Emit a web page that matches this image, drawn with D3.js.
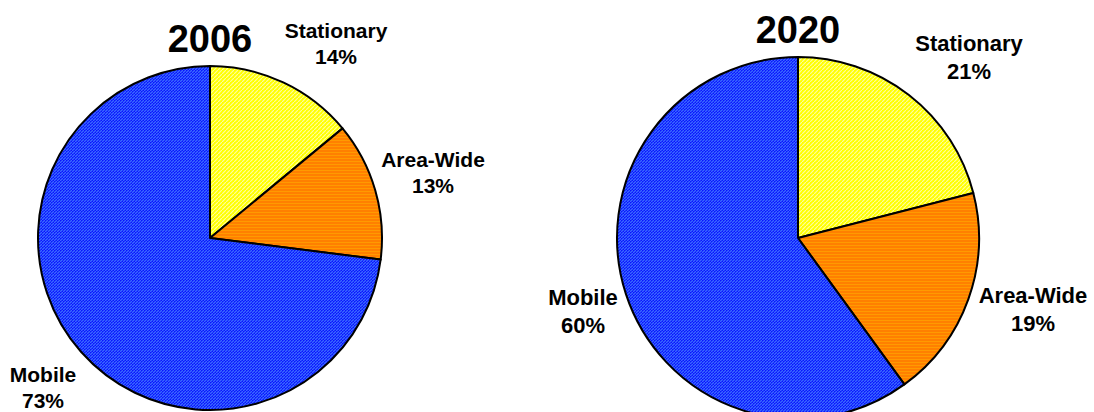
<!DOCTYPE html>
<html>
<head>
<meta charset="utf-8">
<script src="https://cdn.jsdelivr.net/npm/d3@7"></script>
<style>
    body { margin: 0; background: #fff; }
    text { font-family: Arial, "Liberation Sans", sans-serif; font-weight: bold; fill: #000; }
</style>
</head>
<body>
<svg id="chart" width="1094" height="412"></svg>
<script>
/* ----- data ----- */
const categories = ['Stationary', 'Area-Wide', 'Mobile']
const years = ['2006', '2020']
const values2006 = [14, 13, 73]
const values2020 = [21, 19, 60]

/* ----- layout ----- */
const pies = [
    { year: years[0], values: values2006, cx: 210, cy: 238, r: 172, titleX: 210, titleY: 52,
      fontSize: 21, lineGap: 26,
      labels: [[336, 38], [433, 167], [43, 382]] },
    { year: years[1], values: values2020, cx: 798, cy: 238, r: 181, titleX: 798, titleY: 43,
      fontSize: 22, lineGap: 28,
      labels: [[969, 51], [1033, 303], [583, 305]] }
]
const fills = ['url(#patYellow)', 'url(#patOrange)', 'url(#patBlue)']

let svg = d3.select('#chart')
let defs = svg.append('defs')

// yellow: light diagonal dots
let py = defs.append('pattern').attr('id', 'patYellow').attr('patternUnits', 'userSpaceOnUse')
    .attr('width', 4).attr('height', 4)
py.append('rect').attr('width', 4).attr('height', 4).attr('fill', '#ffff00')
py.append('path').attr('d', 'M0,4 L4,0').attr('stroke', '#ffff99').attr('stroke-width', 1.2)

// orange: horizontal stripes
let po = defs.append('pattern').attr('id', 'patOrange').attr('patternUnits', 'userSpaceOnUse')
    .attr('width', 4).attr('height', 3)
po.append('rect').attr('width', 4).attr('height', 3).attr('fill', '#ff8000')
po.append('rect').attr('y', 1).attr('width', 4).attr('height', 1).attr('fill', '#ff9a00')

// blue: diagonal hatch
let pb = defs.append('pattern').attr('id', 'patBlue').attr('patternUnits', 'userSpaceOnUse')
    .attr('width', 3).attr('height', 3)
pb.append('rect').attr('width', 3).attr('height', 3).attr('fill', '#0a14ff')
pb.append('path').attr('d', 'M-1,4 L4,-1').attr('stroke', '#3a6aff').attr('stroke-width', 1.3)

let pie = d3.pie().sort(null).value(d => d)

for (let p of pies) {
    let g = svg.append('g').attr('transform', 'translate(' + p.cx + ',' + p.cy + ')')
    let arc = d3.arc().innerRadius(0).outerRadius(p.r)

    g.selectAll('path.slice')
        .data(pie(p.values))
        .enter().append('path')
        .attr('class', 'slice')
        .attr('d', arc)
        .attr('fill', (d, i) => fills[i])
        .attr('stroke', '#000')
        .attr('stroke-width', 2)
        .attr('stroke-linejoin', 'round')

    svg.append('text')
        .attr('x', p.titleX).attr('y', p.titleY)
        .attr('text-anchor', 'middle')
        .style('font-size', '38px')
        .text(p.year)

    p.values.forEach(function (v, i) {
        let t = svg.append('text')
            .attr('text-anchor', 'middle')
            .style('font-size', p.fontSize + 'px')
        t.append('tspan').attr('x', p.labels[i][0]).attr('y', p.labels[i][1]).text(categories[i])
        t.append('tspan').attr('x', p.labels[i][0]).attr('y', p.labels[i][1] + p.lineGap).text(v + '%')
    })
}
</script>
</body>
</html>
